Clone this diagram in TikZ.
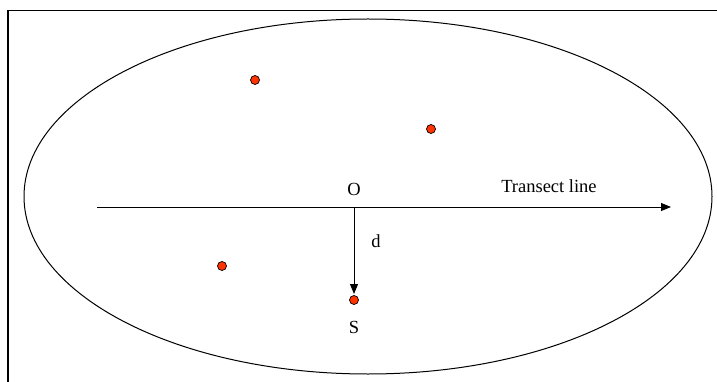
\documentclass[tikz,border=0pt]{standalone}
\usepackage{fontspec}
\setmainfont{Liberation Serif}
\usetikzlibrary{arrows.meta}
\definecolor{dotred}{RGB}{255,51,0}
\begin{document}
\begin{tikzpicture}[x=1pt,y=-1pt,
  pt/.style={circle,draw=black,fill=dotred,inner sep=0pt,minimum size=9pt,line width=0.7pt},
  lbl/.style={font=\fontsize{18.5}{21}\selectfont,inner sep=0pt},
  arr/.style={-{Triangle[length=10pt,width=8pt]},line width=1pt}]
\useasboundingbox (0,0) rectangle (717,382);
\draw[line width=1.4pt] (8,382) -- (8,10.5) -- (717,10.5);
\draw[line width=1pt] (368,196.5) ellipse [x radius=344, y radius=177.5];
\coordinate (tl) at (97,207);
\coordinate (tr) at (671,207);
\coordinate (o) at (354,207);
\node[pt] (p1) at (255,80) {};
\node[pt] (p2) at (431,129) {};
\node[pt] (p3) at (222,266) {};
\node[pt] (s) at (354,300) {};
\coordinate (dend) at (354,294);
\draw[arr] (tl) -- (tr);
\draw[arr] (o) -- (dend);
\node[lbl] (olbl) at (354,189) {O};
\node[lbl] (tlbl) at (549,186) {Transect line};
\node[lbl] (dlbl) at (376,241) {d};
\node[lbl] (slbl) at (354,327) {S};
\end{tikzpicture}
\end{document}
